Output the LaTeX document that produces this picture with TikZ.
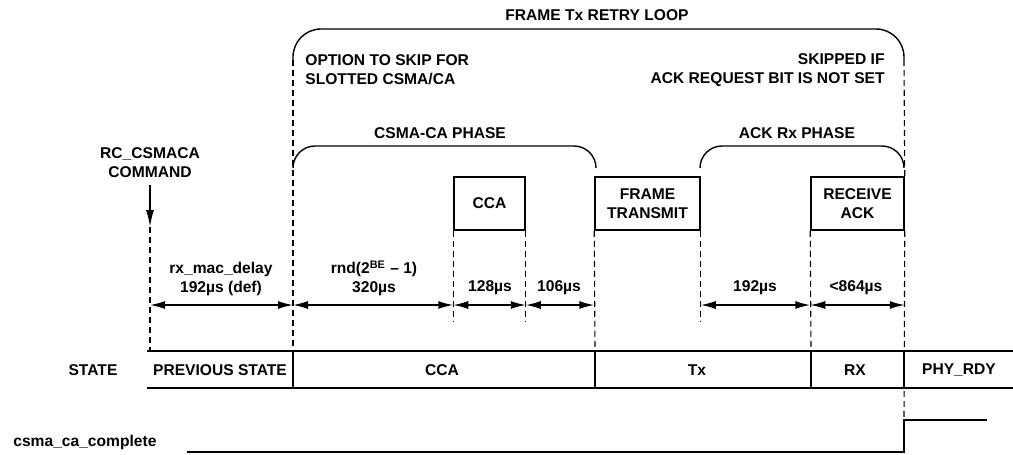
\documentclass[tikz,border=0pt]{standalone}
\usepackage{fontspec}
\setmainfont{Liberation Sans}
\usepackage{tikz}
\usetikzlibrary{
	arrows.meta,
	positioning,
	calc
}

\begin{document}
\begin{tikzpicture}[x=0.5pt,y=-0.5pt,
		font=\fontsize{7.8}{9.5}\selectfont\bfseries,
		>={Latex[length=7.5pt,width=4pt]},
		lbl/.style={align=center,inner sep=0pt},
		box/.style={draw,line width=0.75pt,minimum height=26.5pt,inner sep=0pt,align=center},
		guide/.style={dash pattern=on 3pt off 2pt,line width=0.55pt},
		dim/.style={<->,line width=0.75pt},
		sig/.style={line width=0.8pt},
		bracket/.style={line width=0.7pt,rounded corners=#1}]
		
		\useasboundingbox (0,0) rectangle (1013,455);
		
		% time marks on the state row
		\coordinate (t0) at (150,351);
		\coordinate (t1) at (293,351);
		\coordinate (t2) at (595,351);
		\coordinate (t3) at (811,351);
		\coordinate (t4) at (904,351);
		\coordinate (dimy) at (0,305);
		\coordinate (guidey) at (0,322);
		\coordinate (go) at (150,227);
		\coordinate (rise) at (904,420);
		
		% retry loop
		\draw[bracket=14pt] (293,60) -- (293,29) -- (904,29) -- (904,60);
		\node[lbl] (retry) at (597,15) {FRAME Tx RETRY LOOP};
		\node[lbl,anchor=west,align=left] (skipopt) at (305,70) {OPTION TO SKIP FOR\\SLOTTED CSMA/CA};
		\node[lbl,anchor=east,align=right] (skipack) at (885,70) {SKIPPED IF\\ACK REQUEST BIT IS NOT SET};
		
		% phases
		\draw[bracket=11pt] (293,168) -- (293,146) -- (596,146) -- (596,168);
		\draw[bracket=11pt] (700,168) -- (700,146) -- (904,146) -- (904,168);
		\node[lbl] (csmaph) at (440,133) {CSMA-CA PHASE};
		\node[lbl] (ackph) at (797,133) {ACK Rx PHASE};
		
		% steps
		\node[box,minimum width=35.5pt] (cca) at (489.5,203.5) {CCA};
		\node[box,minimum width=52.5pt] (ftx) at (647.5,203.5) {FRAME\\TRANSMIT};
		\node[box,minimum width=46.5pt] (rack) at (857.5,203.5) {RECEIVE\\ACK};
		
		% command
		\node[lbl] (cmd) at (150,163) {RC\_CSMACA\\COMMAND};
		\draw[->,sig,>={Latex[length=8.5pt,width=4pt]},shorten <=3.5pt] (cmd.south) -- (go);
		
		% guides
		\draw[guide] (go) -- (t0);
		\draw[guide] (293,60) -- (t1);
		\draw[guide] (904,60) -- (rack.north east);
		\draw[guide] (cca.south west) -- (cca.south west |- guidey);
		\draw[guide] (cca.south east) -- (cca.south east |- guidey);
		\draw[guide] (ftx.south west) -- (t2);
		\draw[guide] (ftx.south east) -- (ftx.south east |- guidey);
		\draw[guide] (rack.south west) -- (t3);
		\draw[guide] (rack.south east) -- (rise);
		
		% durations
		\draw[dim] (t0 |- dimy) -- (t1 |- dimy);
		\draw[dim] (t1 |- dimy) -- (cca.south west |- dimy);
		\draw[dim] (cca.south west |- dimy) -- (cca.south east |- dimy);
		\draw[dim] (cca.south east |- dimy) -- (ftx.south west |- dimy);
		\draw[dim] (ftx.south east |- dimy) -- (rack.south west |- dimy);
		\draw[dim] (rack.south west |- dimy) -- (rack.south east |- dimy);
		\node[lbl] (dmac) at (221,278.5) {rx\_mac\_delay\\192µs (def)};
		\node[lbl] (drnd) at (374,278.5) {rnd(2\textsuperscript{BE} – 1)\\320µs};
		\node[lbl] (dcca) at (490,288) {128µs};
		\node[lbl] (dgap) at (559,288) {106µs};
		\node[lbl] (dturn) at (755,288) {192µs};
		\node[lbl] (dack) at (856,288) {<864µs};
		
		% state row
		\draw[sig] (147,351) -- (1013,351);
		\draw[sig] (147,388) -- (1013,388);
		\foreach \t in {t1,t2,t3,t4}
			\draw[sig] (\t) -- ++(0,37);
		\node[lbl] (state) at (93,370) {STATE};
		\node[lbl] (stprev) at (220,370) {PREVIOUS STATE};
		\node[lbl] (stcca) at (442,370) {CCA};
		\node[lbl] (sttx) at (697,370) {Tx};
		\node[lbl] (strx) at (855,370) {RX};
		\node[lbl] (strdy) at (959,370) {PHY\_RDY};
		
		% complete flag
		\node[lbl,anchor=west] (cmpl) at (13,442) {csma\_ca\_complete};
		\draw[sig] (187,452) -- (rise |- 0,452) -- (rise) -- (987,420);
		
	\end{tikzpicture}
\end{document}
